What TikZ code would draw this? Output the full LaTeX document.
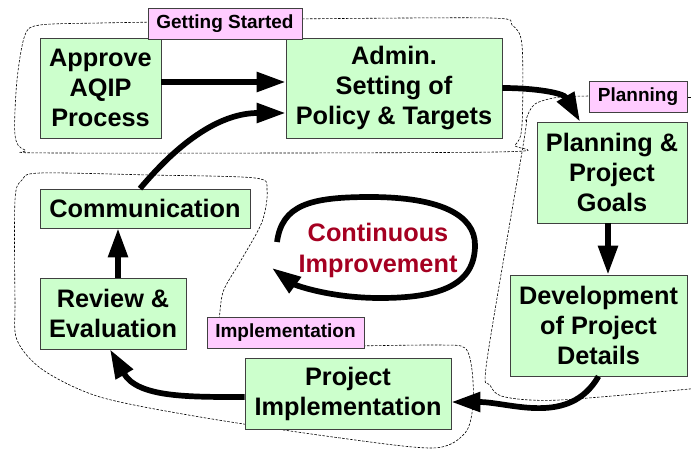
\documentclass[tikz,border=0pt]{standalone}
\usepackage{fontspec}
\setmainfont{Liberation Sans}
\usetikzlibrary{arrows.meta}
\definecolor{boxgreen}{RGB}{204,255,204}
\definecolor{tagpink}{RGB}{255,204,255}
\definecolor{loopred}{RGB}{165,0,33}

\begin{document}
\begin{tikzpicture}[x=1pt, y=-1pt,
    stage/.style={draw=black!75, line width=0.8pt, fill=boxgreen, align=center,
      inner sep=0pt, font=\fontsize{25.3}{30}\selectfont\bfseries},
    tag/.style={draw=black!75, line width=0.8pt, fill=tagpink, inner sep=0pt,
      minimum height=31pt, font=\fontsize{19}{22}\selectfont\bfseries},
    flow/.style={draw, line width=5.7pt, -{Triangle[length=29pt,width=19pt]}},
    zone/.style={draw, dash pattern=on 2.5pt off 1.5pt, line width=0.6pt}]
    \useasboundingbox (0,0) rectangle (691,453);

    \draw [zone] plot [smooth, tension=0.5] coordinates {(290,19) (490,18) (512,25) (522,45) (522,125) (515,145) (495,152) (60,153) (25,150) (15,135) (17,80) (25,35) (40,25) (100,23) (160,22)};
    \draw [zone] plot [smooth, tension=0.5] coordinates {(600,96) (560,97) (535,104) (526,120) (524,140) (487,360) (490,385) (505,397) (560,400) (700,388)};
    \draw [zone] (680,97) -- (700,97);
    \draw [zone] plot [smooth, tension=0.5] coordinates {(355,346) (440,345) (465,348) (472,370) (473,405) (465,433) (433,448) (333,437) (200,417) (100,397) (43,370) (17,340) (15,300) (15,200) (22,180) (40,173) (150,175) (255,178) (267,190) (262,222) (240,262) (223,292) (219,325)};

    \node [stage, minimum width=121pt, minimum height=100pt] (approve) at (100.5,88) {Approve\\AQIP\\Process};
    \node [stage, minimum width=216pt, minimum height=100pt] (admin) at (394,88) {Admin.\\Setting of\\Policy \& Targets};
    \node [stage, minimum width=150pt, minimum height=101pt] (goals) at (612,172.5) {Planning \&\\Project\\Goals};
    \node [stage, minimum width=177pt, minimum height=101pt] (details) at (598.5,325.5) {Development\\of Project\\Details};
    \node [stage, minimum width=206pt, minimum height=71pt] (impl) at (348,393.5) {Project\\Implementation};
    \node [stage, minimum width=146pt, minimum height=71pt] (review) at (113,313.5) {Review \&\\Evaluation};
    \node [stage, minimum width=210pt, minimum height=39pt] (comm) at (145,208.5) {Communication};

    \node [tag, minimum width=154pt] (started) at (225,23.5) {Getting Started};
    \node [tag, minimum width=98pt] (planning) at (638,96.5) {Planning};
    \node [tag, minimum width=157pt] (implementing) at (285.5,332.5) {Implementation};

    \node [text=loopred, align=center, font=\fontsize{25.3}{31}\selectfont\bfseries] (improve) at (378,250) {Continuous\\Improvement};
    \draw [flow] (277,242) .. controls (282,205) and (310,197) .. (370,197)
      .. controls (440,197) and (475,215) .. (475,245)
      .. controls (475,285) and (440,298) .. (380,298)
      .. controls (330,298) and (295,285) .. (272,268);

    \path
    ([yshift=6pt]approve.east) edge [flow] ([yshift=6pt]admin.west)
    ([xshift=-5pt]comm.north) edge [flow, out=50, in=180] ([yshift=-25pt]admin.west)
    (admin.east) edge [flow, out=0, in=120] ([xshift=-32pt]goals.north)
    ([xshift=-4pt]goals.south) edge [flow] ([xshift=-4pt]goals.south |- details.north)
    (details.south) edge [flow, out=240, in=0] ([yshift=-8.5pt]impl.east)
    ([yshift=-3.5pt]impl.west) edge [flow, out=180, in=-60] ([xshift=-3pt]review.south)
    ([xshift=5pt]review.north) edge [flow] ([xshift=5pt]review.north |- comm.south)
    ;
\end{tikzpicture}
\end{document}
